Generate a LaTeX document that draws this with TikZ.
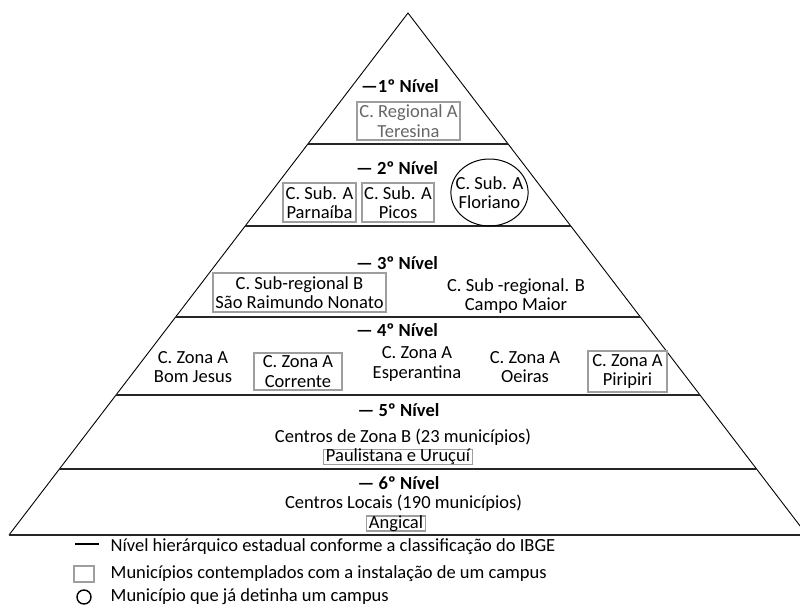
\documentclass[tikz,border=0pt]{standalone}
\usepackage{fontspec}
\setmainfont{Carlito}
\usetikzlibrary{positioning,shapes.geometric}

\begin{document}
\begin{tikzpicture}[x=1pt,y=-1pt,
    font=\fontsize{18.5}{19.5}\selectfont,
    every node/.style={inner sep=0pt,align=center},
    campus/.style={draw=black!38,line width=1.8pt,inner xsep=2.5pt,inner ysep=3pt},
    tight/.style={inner ysep=0.5pt,text height=11.5pt,text depth=2.5pt},
    nivel/.style={font=\fontsize{18.5}{19.5}\selectfont\bfseries},
    camada/.style={line width=1.2pt,black!85}]
  \useasboundingbox (0,0) rectangle (800,605);
  % piramide
  \coordinate (topo) at (408,13);
  \draw[line width=0.9pt] (9,535) -- (topo) -- (807,535);
  \foreach \y in {144,226,317,395,469,535}
    \draw[camada] ({408-0.7644*(\y-13)},\y) -- ({408+0.7644*(\y-13)},\y);
  % 1o nivel
  \node[nivel] (n1) at (400,86) {—1º Nível};
  \node[campus,text=black!60] (teresina) at (408.5,121) {C. Regional A\\Teresina};
  % 2o nivel
  \node[nivel] (n2) at (397,168) {— 2º Nível};
  \node[campus] (parnaiba) at (319.5,202.5) {C. Sub. A\\Parnaíba};
  \node[campus] (picos) at (398,202.5) {C. Sub. A\\Picos};
  \node[draw,ellipse,line width=1pt,inner xsep=-6.5pt,minimum height=67pt] (floriano) at (489.5,192.5) {C. Sub. A\\Floriano};
  % 3o nivel
  \node[nivel] (n3) at (397,263) {— 3º Nível};
  \node[campus] (saoraimundo) at (299.5,292.5) {C. Sub-regional B\\São Raimundo Nonato};
  \node (campomaior) at (516,296) {C. Sub -regional. B\\Campo Maior};
  % 4o nivel
  \node[nivel] (n4) at (397,330) {— 4º Nível};
  \node (bomjesus) at (193,367) {C. Zona A\\Bom Jesus};
  \node[campus,minimum width=88pt] (corrente) at (298,371.5) {C. Zona A\\Corrente};
  \node (esperantina) at (417,364) {C. Zona A\\Esperantina};
  \node (oeiras) at (525,367) {C. Zona A\\Oeiras};
  \node[campus,minimum width=79pt] (piripiri) at (627.5,371.5) {C. Zona A\\Piripiri};
  % 5o nivel
  \node[nivel] (n5) at (398.5,410) {— 5º Nível};
  \node (zonab) at (403,437) {Centros de Zona B (23 municípios)};
  \node[campus,tight] (paulistana) at (398,457) {Paulistana e Uruçuí};
  % 6o nivel
  \node[nivel] (n6) at (398.5,483) {— 6º Nível};
  \node (locais) at (403.5,503.5) {Centros Locais (190 municípios)};
  \node[campus,tight] (angical) at (396,523.5) {Angical};
  % legenda
  \node (legnivel) at (87,547) {\rule[0.6ex]{24pt}{2.2pt}};
  \node[anchor=west] (txtnivel) at (110.5,547) {Nível hierárquico estadual conforme a classificação do IBGE};
  \node[draw=black!38,line width=1.6pt,minimum width=20pt,minimum height=16pt] (legcampus) at (84,574) {};
  \node[anchor=west] (txtcampus) at (110.5,574) {Municípios contemplados com a instalação de um campus};
  \node[draw,circle,line width=1.4pt,minimum size=14pt] (legantigo) at (84,597) {};
  \node[anchor=west] (txtantigo) at (110.5,597) {Município que já detinha um campus};
\end{tikzpicture}
\end{document}
